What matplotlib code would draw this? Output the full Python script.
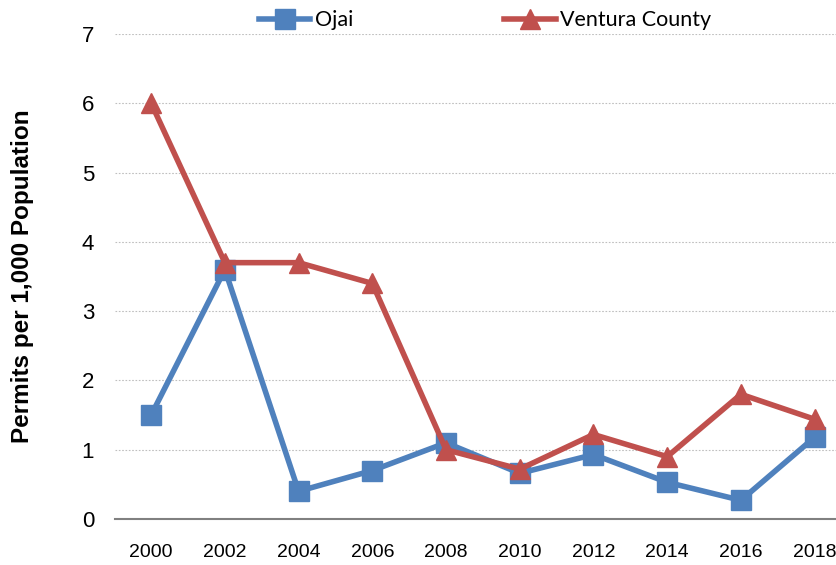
import matplotlib
matplotlib.use("Agg")
import matplotlib.pyplot as plt

years = ["2000", "2002", "2004", "2006", "2008", "2010", "2012", "2014", "2016", "2018"]
ojai = [1.50, 3.60, 0.40, 0.70, 1.10, 0.66, 0.93, 0.53, 0.27, 1.18]
ventura = [6.00, 3.70, 3.70, 3.40, 1.00, 0.72, 1.22, 0.90, 1.80, 1.44]
y_ticks = [0, 1, 2, 3, 4, 5, 6, 7]

BLUE = "#4F81BD"
RED = "#C0504D"


def main():
    fig = plt.figure(figsize=(8.36, 5.65), dpi=100)
    ax = fig.add_axes([0.1376, 0.0814, 0.8624, 0.8584])

    x = list(range(len(years)))
    ax.plot(x, ojai, color=BLUE, lw=4, marker="s", ms=14, label="Ojai",
            zorder=3)
    ax.plot(x, ventura, color=RED, lw=4, marker="^", ms=15,
            label="Ventura County", zorder=4)

    ax.set_xlim(-0.49, 9.29)
    ax.set_ylim(0, 7)
    ax.set_yticks(y_ticks)
    ax.set_xticks(x)
    ax.set_xticklabels(years)
    ax.yaxis.grid(True, color="#BFBFBF", ls=(0, (1.5, 1.5)), lw=0.8)
    ax.set_axisbelow(True)

    for s in ["top", "right", "left"]:
        ax.spines[s].set_visible(False)
    ax.spines["bottom"].set_color("#808080")
    ax.spines["bottom"].set_linewidth(1.5)
    ax.tick_params(length=0)
    ax.tick_params(axis="x", labelsize=14, pad=18)
    ax.tick_params(axis="y", labelsize=16, pad=15)
    for lab in ax.get_xticklabels() + ax.get_yticklabels():
        lab.set_fontfamily("Liberation Sans")

    ax.set_ylabel("Permits per 1,000 Population", fontsize=17.5,
                  fontweight="bold", family="Liberation Sans", labelpad=34)

    fig.legend(loc="center", bbox_to_anchor=(0.58, 0.964), ncol=2, frameon=False,
               prop={"family": "Lato", "size": 15.5}, handlelength=2.4,
               columnspacing=7, handletextpad=0.2)

    fig.savefig("out.png", dpi=100)
    plt.close(fig)


if __name__ == "__main__":
    main()
